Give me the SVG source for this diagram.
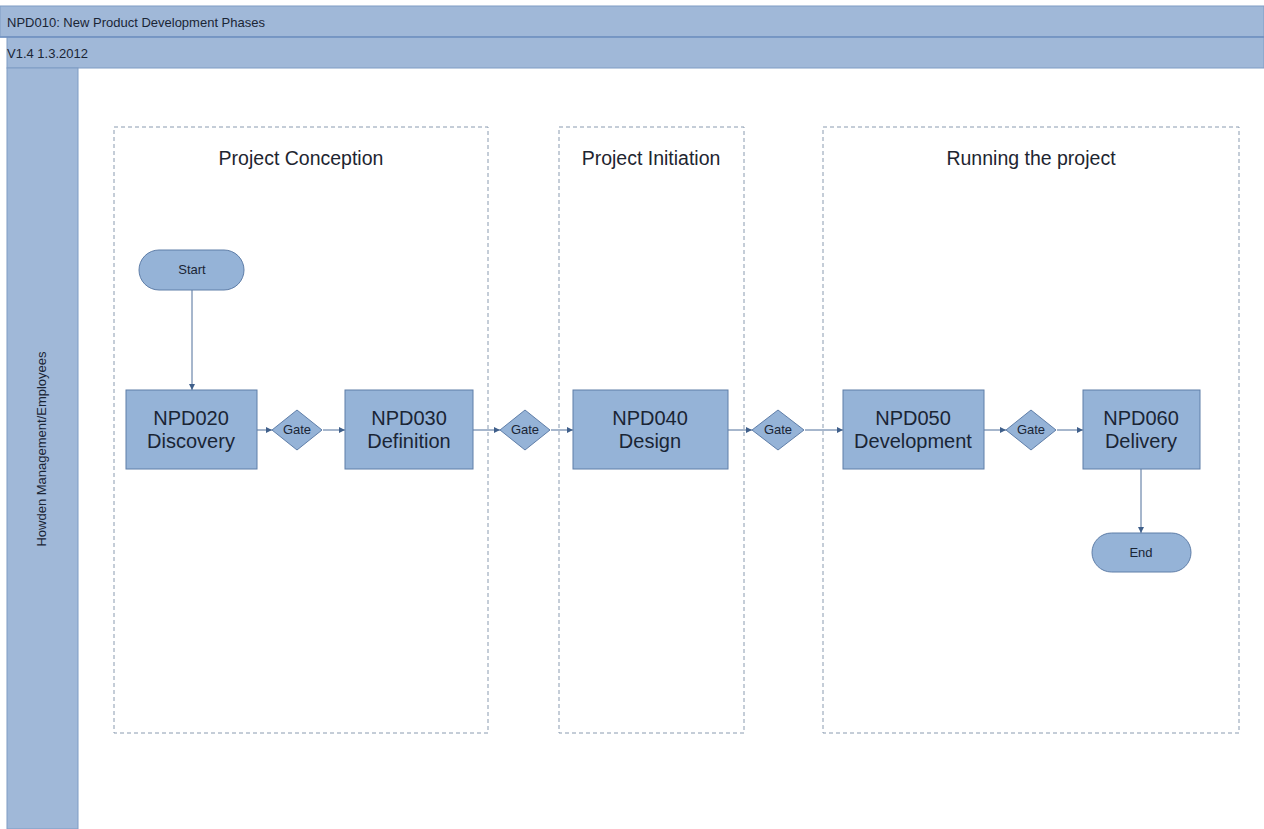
<svg xmlns="http://www.w3.org/2000/svg" width="1264" height="829" viewBox="0 0 1264 829">
<style>
.band{fill:#a0b8d8;stroke:#7f9cc4;stroke-width:1}
.phase{fill:none;stroke:#8a9bb0;stroke-width:1;stroke-dasharray:4 3}
.ph{font-family:"Liberation Sans",Arial,sans-serif;font-size:19.5px;fill:#1e2530;text-anchor:middle}
.box{fill:#95b3d7;stroke:#5f7ea8;stroke-width:1}
.bt{font-family:"Liberation Sans",Arial,sans-serif;font-size:20px;fill:#1a2535;text-anchor:middle}
.st{font-family:"Liberation Sans",Arial,sans-serif;font-size:13px;fill:#1a2535;text-anchor:middle}
.hd{font-family:"Liberation Sans",Arial,sans-serif;font-size:13px;fill:#1a2535}
.c{fill:none;stroke:#4f6f9a;stroke-width:1;marker-end:url(#ah)}
</style>
<defs>
<marker id="ah" viewBox="0 0 10 10" refX="10" refY="5" markerWidth="6" markerHeight="6" orient="auto" markerUnits="userSpaceOnUse">
<path d="M0,0 L10,5 L0,10 z" fill="#3f5f8a"/>
</marker>
</defs>
<rect width="1264" height="829" fill="#ffffff"/>
<g id="header">
<rect class="band" x="0" y="6" width="1264" height="31"/>
<text class="hd" x="7" y="27">NPD010: New Product Development Phases</text>
<rect class="band" x="7" y="37" width="1257" height="31"/>
<line x1="0" y1="37" x2="1264" y2="37" stroke="#6f90c0" stroke-width="1.5"/>
<text class="hd" x="7" y="58">V1.4 1.3.2012</text>
</g>
<g id="lane">
<rect class="band" x="7" y="68" width="71" height="761"/>
<text class="hd" transform="translate(46,449) rotate(-90)" text-anchor="middle">Howden Management/Employees</text>
</g>
<g id="phase-conception">
<rect class="phase" x="114" y="127" width="374" height="606"/>
<text class="ph" x="301" y="165">Project Conception</text>
</g>
<g id="phase-initiation">
<rect class="phase" x="559" y="127" width="185" height="606"/>
<text class="ph" x="651" y="165">Project Initiation</text>
</g>
<g id="phase-running">
<rect class="phase" x="823" y="127" width="416" height="606"/>
<text class="ph" x="1031" y="165">Running the project</text>
</g>
<g id="connectors">
<path class="c" d="M192,290 V390"/>
<path class="c" d="M257,430 H272"/>
<path class="c" d="M323,430 H345"/>
<path class="c" d="M473,430 H500"/>
<path class="c" d="M551,430 H573"/>
<path class="c" d="M728,430 H752"/>
<path class="c" d="M805,430 H843"/>
<path class="c" d="M984,430 H1006"/>
<path class="c" d="M1057,430 H1083"/>
<path class="c" d="M1141,469 V533"/>
</g>
<g id="start">
<rect class="box" x="139" y="250" width="105" height="40" rx="20"/>
<text class="st" x="192" y="274">Start</text>
</g>
<g id="npd020">
<rect class="box" x="126" y="390" width="131" height="79"/>
<text class="bt" x="191" y="425">NPD020</text>
<text class="bt" x="191" y="448">Discovery</text>
</g>
<g id="gate1">
<polygon class="box" points="272,430 297,410 322,430 297,450"/>
<text class="st" x="297" y="434">Gate</text>
</g>
<g id="npd030">
<rect class="box" x="345" y="390" width="128" height="79"/>
<text class="bt" x="409" y="425">NPD030</text>
<text class="bt" x="409" y="448">Definition</text>
</g>
<g id="gate2">
<polygon class="box" points="500,430 525,410 550,430 525,450"/>
<text class="st" x="525" y="434">Gate</text>
</g>
<g id="npd040">
<rect class="box" x="573" y="390" width="155" height="79"/>
<text class="bt" x="650" y="425">NPD040</text>
<text class="bt" x="650" y="448">Design</text>
</g>
<g id="gate3">
<polygon class="box" points="752,430 778,410 804,430 778,450"/>
<text class="st" x="778" y="434">Gate</text>
</g>
<g id="npd050">
<rect class="box" x="843" y="390" width="141" height="79"/>
<text class="bt" x="913" y="425">NPD050</text>
<text class="bt" x="913" y="448">Development</text>
</g>
<g id="gate4">
<polygon class="box" points="1006,430 1031,410 1056,430 1031,450"/>
<text class="st" x="1031" y="434">Gate</text>
</g>
<g id="npd060">
<rect class="box" x="1083" y="390" width="117" height="79"/>
<text class="bt" x="1141" y="425">NPD060</text>
<text class="bt" x="1141" y="448">Delivery</text>
</g>
<g id="end">
<rect class="box" x="1092" y="533" width="99" height="39" rx="19.5"/>
<text class="st" x="1141" y="557">End</text>
</g>
</svg>
